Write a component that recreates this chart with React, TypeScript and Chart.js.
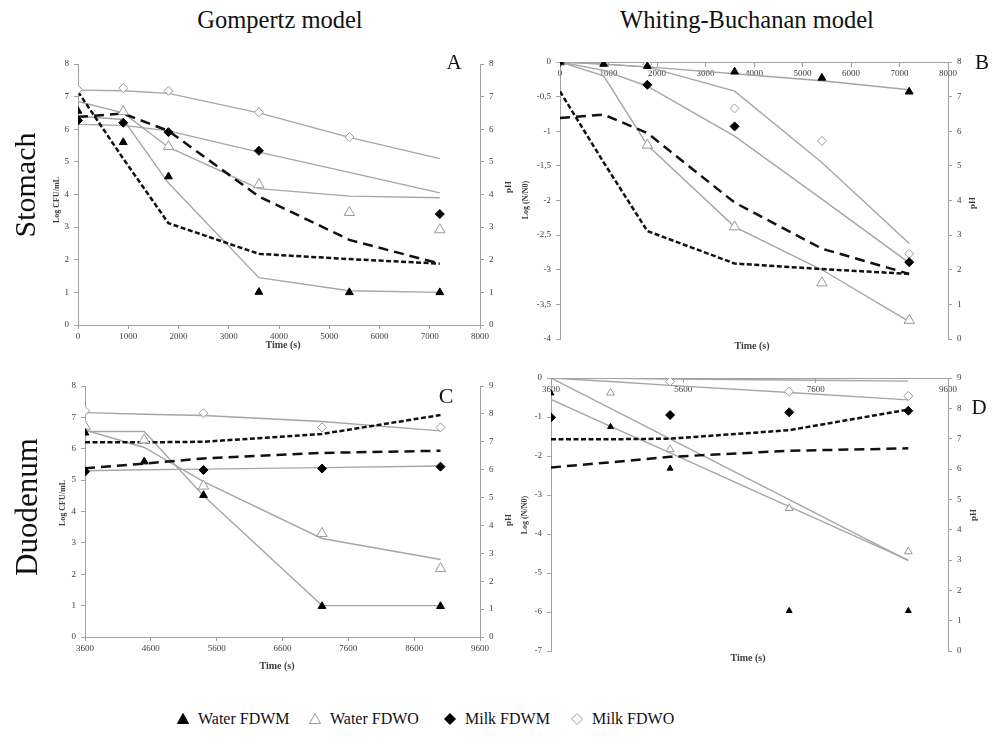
import React, { useEffect, useRef } from "react";
import { Chart, registerables } from "chart.js";
Chart.register(...registerables);

// ---------- data ----------
const seriesNames = ["Water FDWM", "Water FDWO", "Milk FDWM", "Milk FDWO"];

const stomachTimes = [0, 900, 1800, 3600, 5400, 7200];
const duodenumTimes = [3600, 4500, 5400, 7200, 9000];

// pH (right axis)
const stomachPhShort = [7.15, 5.1, 3.12, 2.18, 2.02, 1.88];
const stomachPhLong = [6.38, 6.48, 5.95, 3.94, 2.61, 1.88];
const duodenumPhShort = [6.98, 6.98, 7.0, 7.28, 7.96];
const duodenumPhLong = [6.05, 6.22, 6.4, 6.6, 6.68];

// Panel A – Gompertz, stomach (Log CFU/mL)
const aWaterFdwmObs = [6.56, 5.6, 4.55, 1.01, 1.0, 1.0];
const aWaterFdwoObs = [null, 6.54, 5.47, 4.3, 3.45, 2.92];
const aMilkFdwmObs = [6.27, 6.2, 5.91, 5.34, null, 3.4];
const aMilkFdwoObs = [7.22, 7.26, 7.18, 6.52, 5.76, null];
const aWaterFdwmFit = [6.4, 6.3, 4.35, 1.45, 1.05, 1.0];
const aWaterFdwoFit = [6.85, 6.5, 5.45, 4.18, 3.95, 3.9];
const aMilkFdwmFit = [6.15, 6.12, 5.95, 5.3, 4.68, 4.05];
const aMilkFdwoFit = [7.2, 7.18, 7.1, 6.5, 5.75, 5.1];

// Panel B – Whiting-Buchanan, stomach (Log N/N0)
const bWaterFdwmObs = [0, -0.03, -0.06, -0.14, -0.23, -0.43];
const bWaterFdwoObs = [0, null, -1.2, -2.38, -3.19, -3.73];
const bMilkFdwmObs = [0, null, -0.33, -0.93, null, -2.89];
const bMilkFdwoObs = [0, null, -0.03, -0.67, -1.14, -2.77];
const bWaterFdwmFit = [0, -0.03, -0.07, -0.17, -0.27, -0.4];
const bWaterFdwoFit = [0, -0.2, -1.2, -2.38, -3.0, -3.75];
const bMilkFdwmFit = [0, -0.12, -0.35, -1.07, -1.98, -2.9];
const bMilkFdwoFit = [0, -0.03, -0.07, -0.42, -1.45, -2.62];

// Panel C – Gompertz, duodenum (Log CFU/mL)
const cWaterFdwmObs = [6.51, 5.59, 4.52, 0.98, 0.98];
const cWaterFdwoObs = [6.72, 6.28, 4.81, 3.3, 2.18];
const cMilkFdwmObs = [5.27, null, 5.32, 5.37, 5.43];
const cMilkFdwoObs = [7.21, null, 7.13, 6.68, 6.68];
const cWaterFdwmFit = [6.55, 6.55, 4.5, 1.0, 1.0];
const cWaterFdwoFit = [6.6, 6.04, 4.95, 3.14, 2.47];
const cMilkFdwmFit = [5.3, 5.33, 5.35, 5.4, 5.45];
const cMilkFdwoFit = [7.15, 7.1, 7.06, 6.87, 6.57];

// Panel D – Whiting-Buchanan, duodenum (Log N/N0)
const dWaterFdwmObs = [-0.39, -1.25, -2.32, -5.97, -5.97];
const dWaterFdwoObs = [null, -0.38, -1.83, -3.34, -4.45];
const dMilkFdwmObs = [-1.01, null, -0.95, -0.88, -0.84];
const dMilkFdwoObs = [null, null, -0.09, -0.35, -0.46];
const dWaterFdwmFit = [-0.55, -1.24, -1.92, -3.3, -4.67];
const dWaterFdwoFit = [0, -0.78, -1.56, -3.12, -4.68];
const dMilkFdwmFit = [0, -0.01, -0.03, -0.05, -0.08];
const dMilkFdwoFit = [0, -0.09, -0.19, -0.37, -0.56];

// ---------- styles ----------
const AXIS = "#a0a0a0";
const TICK = "#404040";
const FIT = "#a6a6a6";
const SERIF = "'Liberation Serif', 'Times New Roman', serif";

const markerStyles = [
  { pointStyle: "triangle", bg: "#000", border: "#000", r: 4.5 },
  { pointStyle: "triangle", bg: "#fff", border: "#999", r: 6 },
  { pointStyle: "rectRot", bg: "#000", border: "#000", r: 4.5 },
  { pointStyle: "rectRot", bg: "#fff", border: "#999", r: 4.5 },
];

type Panel = {
  times: number[];
  obs: (number | null)[][];
  fits: number[][];
  ph: number[][];
  xMin: number; xMax: number; xStep: number;
  yMin: number; yMax: number; yStep: number;
  y2Max: number;
  xAtTop: boolean;
  comma: boolean;
  box: { left: number; top: number; width: number; height: number };
  area: { L: number; T: number; R: number; B: number };
  triScale: number;
};

const panels: Panel[] = [
  {
    times: stomachTimes,
    obs: [aWaterFdwmObs, aWaterFdwoObs, aMilkFdwmObs, aMilkFdwoObs],
    fits: [aWaterFdwmFit, aWaterFdwoFit, aMilkFdwmFit, aMilkFdwoFit],
    ph: [stomachPhShort, stomachPhLong],
    xMin: 0, xMax: 8000, xStep: 1000, yMin: 0, yMax: 8, yStep: 1, y2Max: 8,
    xAtTop: false, comma: false,
    box: { left: 38, top: 50, width: 482, height: 300 },
    area: { L: 78, T: 64, R: 480, B: 325 },
    triScale: 1,
  },
  {
    times: stomachTimes,
    obs: [bWaterFdwmObs, bWaterFdwoObs, bMilkFdwmObs, bMilkFdwoObs],
    fits: [bWaterFdwmFit, bWaterFdwoFit, bMilkFdwmFit, bMilkFdwoFit],
    ph: [stomachPhShort, stomachPhLong],
    xMin: 0, xMax: 8000, xStep: 1000, yMin: -4, yMax: 0, yStep: 0.5, y2Max: 8,
    xAtTop: true, comma: true,
    box: { left: 528, top: 48, width: 450, height: 302 },
    area: { L: 560, T: 62, R: 948, B: 339 },
    triScale: 1,
  },
  {
    times: duodenumTimes,
    obs: [cWaterFdwmObs, cWaterFdwoObs, cMilkFdwmObs, cMilkFdwoObs],
    fits: [cWaterFdwmFit, cWaterFdwoFit, cMilkFdwmFit, cMilkFdwoFit],
    ph: [duodenumPhShort, duodenumPhLong],
    xMin: 3600, xMax: 9600, xStep: 1000, yMin: 0, yMax: 8, yStep: 1, y2Max: 9,
    xAtTop: false, comma: false,
    box: { left: 45, top: 372, width: 475, height: 290 },
    area: { L: 85, T: 386, R: 480, B: 637 },
    triScale: 1,
  },
  {
    times: duodenumTimes,
    obs: [dWaterFdwmObs, dWaterFdwoObs, dMilkFdwmObs, dMilkFdwoObs],
    fits: [dWaterFdwmFit, dWaterFdwoFit, dMilkFdwmFit, dMilkFdwoFit],
    ph: [duodenumPhShort, duodenumPhLong],
    xMin: 3600, xMax: 9600, xStep: 2000, yMin: -7, yMax: 0, yStep: 1, y2Max: 9,
    xAtTop: true, comma: false,
    box: { left: 521, top: 364, width: 457, height: 300 },
    area: { L: 551, T: 378, R: 948, B: 651 },
    triScale: 0.75,
  },
];

const toXY = (xs: number[], ys: (number | null)[]) => xs.map((x, i) => ({ x, y: ys[i] }));

function buildConfig(p: Panel): any {
  const datasets: any[] = [];
  p.fits.forEach((fit, i) =>
    datasets.push({
      label: seriesNames[i] + " model",
      data: toXY(p.times, fit),
      yAxisID: "y",
      borderColor: FIT,
      borderWidth: 1.4,
      pointRadius: 0,
      tension: 0,
      fill: false,
      order: 3,
    })
  );
  const dashes = [[5, 2.5], [10, 6]];
  p.ph.forEach((ph, i) =>
    datasets.push({
      label: i === 0 ? "pH water" : "pH milk",
      data: toXY(p.times, ph),
      yAxisID: "y2",
      borderColor: "#111",
      borderWidth: 2.5,
      borderDash: dashes[i],
      pointRadius: 0,
      tension: 0,
      fill: false,
      order: 2,
    })
  );
  p.obs.forEach((o, i) => {
    const m = markerStyles[i];
    const r = m.pointStyle === "triangle" ? m.r * p.triScale : m.r;
    datasets.push({
      label: seriesNames[i],
      data: toXY(p.times, o),
      yAxisID: "y",
      showLine: false,
      pointStyle: m.pointStyle,
      pointRadius: r,
      pointBackgroundColor: m.bg,
      pointBorderColor: m.border,
      pointBorderWidth: 1,
      order: 1,
    });
  });

  const font = { family: SERIF, size: 9 };
  const grid = { display: true, drawOnChartArea: false, drawTicks: true, tickLength: 4, color: AXIS };
  const border = { display: true, color: AXIS, width: 1 };
  const leftW = p.area.L - p.box.left;
  const rightW = p.box.left + p.box.width - p.area.R;
  const bottomH = p.box.top + p.box.height - p.area.B;

  return {
    type: "line",
    data: { datasets },
    options: {
      animation: false,
      responsive: false,
      devicePixelRatio: 1,
      parsing: true,
      layout: {
        padding: {
          top: p.area.T - p.box.top,
          bottom: p.xAtTop ? bottomH : 0,
          left: 0,
          right: 0,
        },
      },
      plugins: { legend: { display: false }, tooltip: { enabled: false }, title: { display: false } },
      scales: {
        x: {
          type: "linear",
          min: p.xMin,
          max: p.xMax,
          position: p.xAtTop ? { y: 0 } : "bottom",
          ticks: {
            stepSize: p.xStep,
            font,
            color: TICK,
            padding: 2,
            maxRotation: 0,
            autoSkip: false,
            callback: (v: number) => String(Math.round(v)),
          },
          grid,
          border,
          afterFit: (s: any) => {
            if (!p.xAtTop) s.height = bottomH;
          },
        },
        y: {
          type: "linear",
          position: "left",
          min: p.yMin,
          max: p.yMax,
          ticks: {
            stepSize: p.yStep,
            font,
            color: TICK,
            padding: 5,
            callback: (v: number) => {
              const s = String(Math.round(v * 10) / 10);
              return p.comma ? s.replace(".", ",") : s;
            },
          },
          grid,
          border,
          afterFit: (s: any) => {
            s.width = leftW;
          },
        },
        y2: {
          type: "linear",
          position: "right",
          min: 0,
          max: p.y2Max,
          ticks: { stepSize: 1, font, color: TICK, padding: 5 },
          grid,
          border,
          afterFit: (s: any) => {
            s.width = rightW;
          },
        },
      },
    },
  };
}

function PanelChart({ p }: { p: Panel }) {
  const ref = useRef<HTMLCanvasElement | null>(null);
  useEffect(() => {
    if (!ref.current) return;
    const chart = new Chart(ref.current, buildConfig(p));
    return () => chart.destroy();
  }, [p]);
  return (
    <canvas
      ref={ref}
      width={p.box.width}
      height={p.box.height}
      style={{ position: "absolute", left: p.box.left, top: p.box.top, width: p.box.width, height: p.box.height }}
    />
  );
}

type Txt = { text: string; x: number; y: number; size: number; bold?: boolean; rotate?: boolean };

// centred text labels (x, y are centre points)
const labels: Txt[] = [
  { text: "Gompertz model", x: 280, y: 20, size: 24.5 },
  { text: "Whiting-Buchanan model", x: 747, y: 20, size: 24.5 },
  { text: "Stomach", x: 25, y: 185, size: 30, rotate: true },
  { text: "Duodenum", x: 26, y: 507, size: 31, rotate: true },
  { text: "A", x: 454, y: 62, size: 21 },
  { text: "B", x: 982, y: 62, size: 21 },
  { text: "C", x: 446, y: 396, size: 22 },
  { text: "D", x: 979, y: 407, size: 21 },
  { text: "Log CFU/mL", x: 57, y: 200, size: 8, bold: true, rotate: true },
  { text: "Log CFU/mL", x: 63, y: 503, size: 8, bold: true, rotate: true },
  { text: "Log (N/N0)", x: 526, y: 200, size: 8, bold: true, rotate: true },
  { text: "Log (N/N0)", x: 525, y: 515, size: 8, bold: true, rotate: true },
  { text: "pH", x: 508, y: 187, size: 9, bold: true, rotate: true },
  { text: "pH", x: 972, y: 203, size: 9, bold: true, rotate: true },
  { text: "pH", x: 508, y: 520, size: 9, bold: true, rotate: true },
  { text: "pH", x: 973, y: 515, size: 9, bold: true, rotate: true },
  { text: "Time (s)", x: 283, y: 345, size: 10, bold: true },
  { text: "Time (s)", x: 752, y: 346, size: 10, bold: true },
  { text: "Time (s)", x: 277, y: 666, size: 10, bold: true },
  { text: "Time (s)", x: 748, y: 658, size: 10, bold: true },
];

function Label({ t }: { t: Txt }) {
  return (
    <div
      style={{
        position: "absolute",
        left: t.x,
        top: t.y,
        transform: `translate(-50%, -50%)${t.rotate ? " rotate(-90deg)" : ""}`,
        fontFamily: SERIF,
        fontSize: t.size,
        fontWeight: t.bold ? "bold" : "normal",
        color: t.bold ? "#404040" : "#111",
        lineHeight: 1,
        whiteSpace: "nowrap",
      }}
    >
      {t.text}
    </div>
  );
}

function Marker({ kind }: { kind: number }) {
  const m = markerStyles[kind];
  const isTri = m.pointStyle === "triangle";
  return (
    <svg width={14} height={14} viewBox="0 0 14 14" style={{ display: "block" }}>
      {isTri ? (
        <polygon points="7,1.5 12.5,11.5 1.5,11.5" fill={m.bg} stroke={m.border} strokeWidth={1} />
      ) : (
        <polygon points="7,1.5 12.5,7 7,12.5 1.5,7" fill={m.bg} stroke={m.border} strokeWidth={1} />
      )}
    </svg>
  );
}

const legendX = [176, 308, 443, 570];

export default function App() {
  return (
    <div style={{ position: "absolute", left: 0, top: 0, width: 998, height: 744, background: "#fff", overflow: "hidden" }}>
      {panels.map((p, i) => (
        <PanelChart key={i} p={p} />
      ))}
      {labels.map((t, i) => (
        <Label key={i} t={t} />
      ))}
      {seriesNames.map((name, i) => (
        <div
          key={name}
          style={{
            position: "absolute",
            left: legendX[i],
            top: 711,
            display: "flex",
            alignItems: "center",
            gap: 8,
            fontFamily: SERIF,
            fontSize: 16,
            lineHeight: 1,
            color: "#111",
            whiteSpace: "nowrap",
          }}
        >
          <Marker kind={i} />
          <span>{name}</span>
        </div>
      ))}
    </div>
  );
}
